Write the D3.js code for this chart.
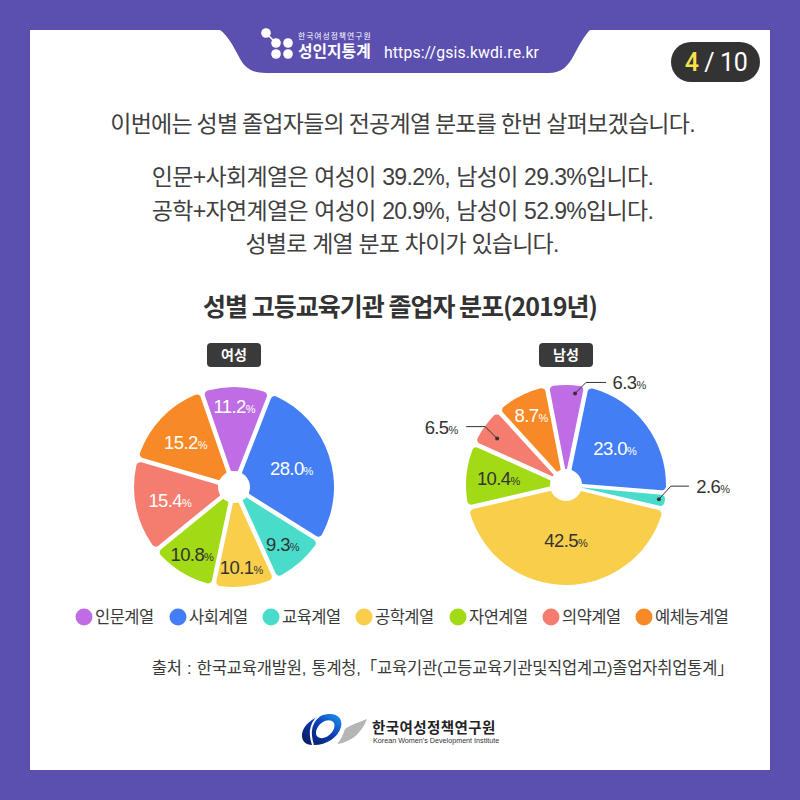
<!DOCTYPE html>
<html><head><meta charset="utf-8">
<script src="https://cdn.jsdelivr.net/npm/d3@7"></script>
<style>html,body{margin:0;padding:0;background:#5b50b0}svg{display:block}text{font-family:"Liberation Sans","Noto Sans CJK KR",sans-serif}</style>
</head><body><svg id="c" width="800" height="800"></svg>
<script>
const categories = ["인문계열","사회계열","교육계열","공학계열","자연계열","의약계열","예체능계열"];
const colors = ["#bf6de4","#437ef5","#4adccb","#f8ce4b","#a2da16","#f57d70","#f78a26"];
const womenValues = [11.2,28.0,9.3,10.1,10.8,15.4,15.2];
const menValues = [6.3,23.0,2.6,42.5,10.4,6.5,8.7];
const bodyLines = ["이번에는 성별 졸업자들의 전공계열 분포를 한번 살펴보겠습니다.","인문+사회계열은 여성이 39.2%, 남성이 29.3%입니다.","공학+자연계열은 여성이 20.9%, 남성이 52.9%입니다.","성별로 계열 분포 차이가 있습니다."];
const title = "성별 고등교육기관 졸업자 분포(2019년)";
const source = "출처 : 한국교육개발원, 통계청,「교육기관(고등교육기관및직업계고)졸업자취업통계」";

const svg = d3.select("#c");
const dark="#333333", bg="#5b50b0";
svg.append("rect").attr("width",800).attr("height",800).attr("fill",bg);
svg.append("rect").attr("x",30).attr("y",30).attr("width",740).attr("height",740).attr("fill","#fff");

// header tab
svg.append("path").attr("fill",bg).attr("d","M220,30 C228,36 232,44 238,55 C244,68 252,73 266,73 L548,73 C562,73 568,66 574,55 C580,44 584,36 590,30 Z");
[[266,33,4.8],[276,43,4.8],[288,43,4.8],[276,54,4.8],[288,54,4.8]].forEach(d=>svg.append("circle").attr("cx",d[0]).attr("cy",d[1]).attr("r",d[2]).attr("fill","#fff"));
svg.append("line").attr("x1",266).attr("y1",33).attr("x2",276).attr("y2",43).attr("stroke","#fff").attr("stroke-width",1.5);
function t(x,y,s,o={}){const e=svg.append("text").attr("x",x).attr("y",y).attr("text-anchor",o.a||"middle").attr("font-size",o.fs||16).attr("font-weight",o.w||400).attr("fill",o.c||dark).attr("letter-spacing",o.ls||0).attr("word-spacing",o.ws||0).text(s);return e;}
t(298,39,"한국여성정책연구원",{a:"start",fs:7.8,c:"#fff",ls:1});
t(298,56.5,"성인지통계",{a:"start",fs:15.8,w:700,c:"#fff"});
t(384,58,"https://gsis.kwdi.re.kr",{a:"start",fs:15.8,c:"#fff",ls:0.12}).style("font-family","Roboto");

// page pill
svg.append("rect").attr("x",671).attr("y",42).attr("width",89).attr("height",40).attr("rx",20).attr("fill","#333");
const pill=svg.append("text").attr("x",716).attr("y",71).attr("text-anchor","middle").attr("font-size",25).attr("fill","#fff").attr("letter-spacing",-0.4).style("font-family","Roboto");
pill.append("tspan").attr("fill","#f6e24a").attr("font-weight",500).text("4");
pill.append("tspan").text(" / 10");

// copy
const bodyY=[132,185,219,252];
const bodyX=[402.5,402.5,402.5,402];
const bodyLs=[-0.75,-0.65,-0.65,-0.8];
const bodyWs=[-1,0.6,0.6,0];
bodyLines.forEach((s,i)=>t(bodyX[i],bodyY[i],s,{fs:23,ls:bodyLs[i],ws:bodyWs[i],c:"#404040"}));
t(400,316,title,{fs:25,w:700,ls:-1}).style("font-family","'Noto Sans CJK KR'");

// pies
function pie(values,cx,cy,startDeg,label){
  const g=svg.append("g").attr("transform",`translate(${cx},${cy})`);
  const layout=d3.pie().sort(null).value(d=>d).startAngle(startDeg*Math.PI/180).endAngle((startDeg+360)*Math.PI/180);
  const arcs=layout(values);
  const arc=d3.arc().innerRadius(14).outerRadius(100).cornerRadius(4).padAngle(0.045).padRadius(100);
  g.selectAll("path").data(arcs).join("path").attr("d",arc).attr("fill",(d,i)=>colors[i]);
  g.append("circle").attr("r",16).attr("fill","#fff");
  // badge
  svg.append("rect").attr("x",cx-27).attr("y",343).attr("width",54).attr("height",24).attr("rx",4).attr("fill","#3a3a3a");
  t(cx,360,label,{fs:14,w:700,c:"#fff"}).style("font-family","'Noto Sans CJK KR'");
  return {g,arcs};
}
const polar=(r,a)=>[r*Math.sin(a),-r*Math.cos(a)];
function valueLabel(g,v,p,color){
  const tx=g.append("text").attr("x",p[0]).attr("y",p[1]+7).attr("text-anchor","middle").attr("fill",color).attr("font-size",18.5).attr("letter-spacing",-0.6);
  tx.text(v.toFixed(1));
  tx.append("tspan").attr("font-size",11).text("%");
}
const textColor=[ "#fff","#fff",dark,dark,dark,"#fff","#fff"];

const w=pie(womenValues,234,487,-19,"여성");
const wR=[81,62,76,80,78,64,65];
w.arcs.forEach((d,i)=>{const p=polar(wR[i],(d.startAngle+d.endAngle)/2);valueLabel(w.g,d.data,[p[0]-1.5,p[1]],textColor[i]);});

const m=pie(menValues,566,485,-11,"남성");
const mR=[0,61,0,55,68,0,78];
const callouts={0:{r:92,nudge:5.3,dx:11,dy:-11,len:20,tx:23},5:{r:83,nudge:-2,dx:-12,dy:-12,len:-19,tx:-25},2:{r:94,nudge:-0.5,dx:12,dy:-13,len:18,tx:24}};
m.arcs.forEach((d,i)=>{
  const mid=(d.startAngle+d.endAngle)/2;
  if(callouts[i]){
    const c=callouts[i];
    const p=polar(c.r,mid+c.nudge*Math.PI/180);
    m.g.append("circle").attr("cx",p[0]).attr("cy",p[1]).attr("r",2).attr("fill",dark);
    const e=[p[0]+c.dx,p[1]+c.dy];
    m.g.append("path").attr("fill","none").attr("stroke",dark).attr("stroke-width",1).attr("d",d3.line()([p,e,[e[0]+c.len,e[1]]]));
    valueLabel(m.g,d.data,[e[0]+c.len+c.tx,e[1]],dark);
  } else {
    valueLabel(m.g,d.data,polar(mR[i],mid),textColor[i]);
  }
});

// legend
const legendX=[84,178,271,364,458,551,644];
categories.forEach((c,i)=>{
  svg.append("circle").attr("cx",legendX[i]).attr("cy",617).attr("r",8.5).attr("fill",colors[i]);
  t(legendX[i]+11,623,c,{a:"start",fs:16.5,ls:-0.5,c:"#3a3a3a"});
});
t(733.5,674,source,{a:"end",fs:16.5,ls:-0.2,ws:1,c:"#3a3a3a"});

// footer logo
const defs=svg.append("defs");
const gr=defs.append("linearGradient").attr("id","lg").attr("x1",0).attr("y1",0.9).attr("x2",0.9).attr("y2",0);
gr.append("stop").attr("offset","0").attr("stop-color","#0a1a5e");
gr.append("stop").attr("offset","0.55").attr("stop-color","#0a3cb4");
gr.append("stop").attr("offset","1").attr("stop-color","#1e90ee");
svg.append("path").attr("fill","#b5b5b5").attr("d","M345,729 C352,724 360,722 367,719 C362,732 352,742 337,744 C341,740 343,735 345,729Z");
svg.append("path").attr("fill","url(#lg)").attr("fill-rule","evenodd").attr("d","M302,736 C302,725 314,716 328,714 C338,713 343,719 341,727 C338,738 325,746 312,745 C306,745 302,741 302,736Z M316,733 C316,738 322,740 328,736 C334,732 337,724 332,721 C326,718 316,725 316,733Z");
svg.append("path").attr("fill","none").attr("stroke","#fff").attr("stroke-width",2).attr("d","M322,714 C312,720 308,730 313,745");
t(372,733,"한국여성정책연구원",{a:"start",fs:14.5,w:700,c:"#222",ls:0.4}).style("font-family","'Noto Sans CJK KR'");
t(373,743,"Korean Women's Development Institute",{a:"start",fs:7.2,c:"#333"});
</script></body></html>
